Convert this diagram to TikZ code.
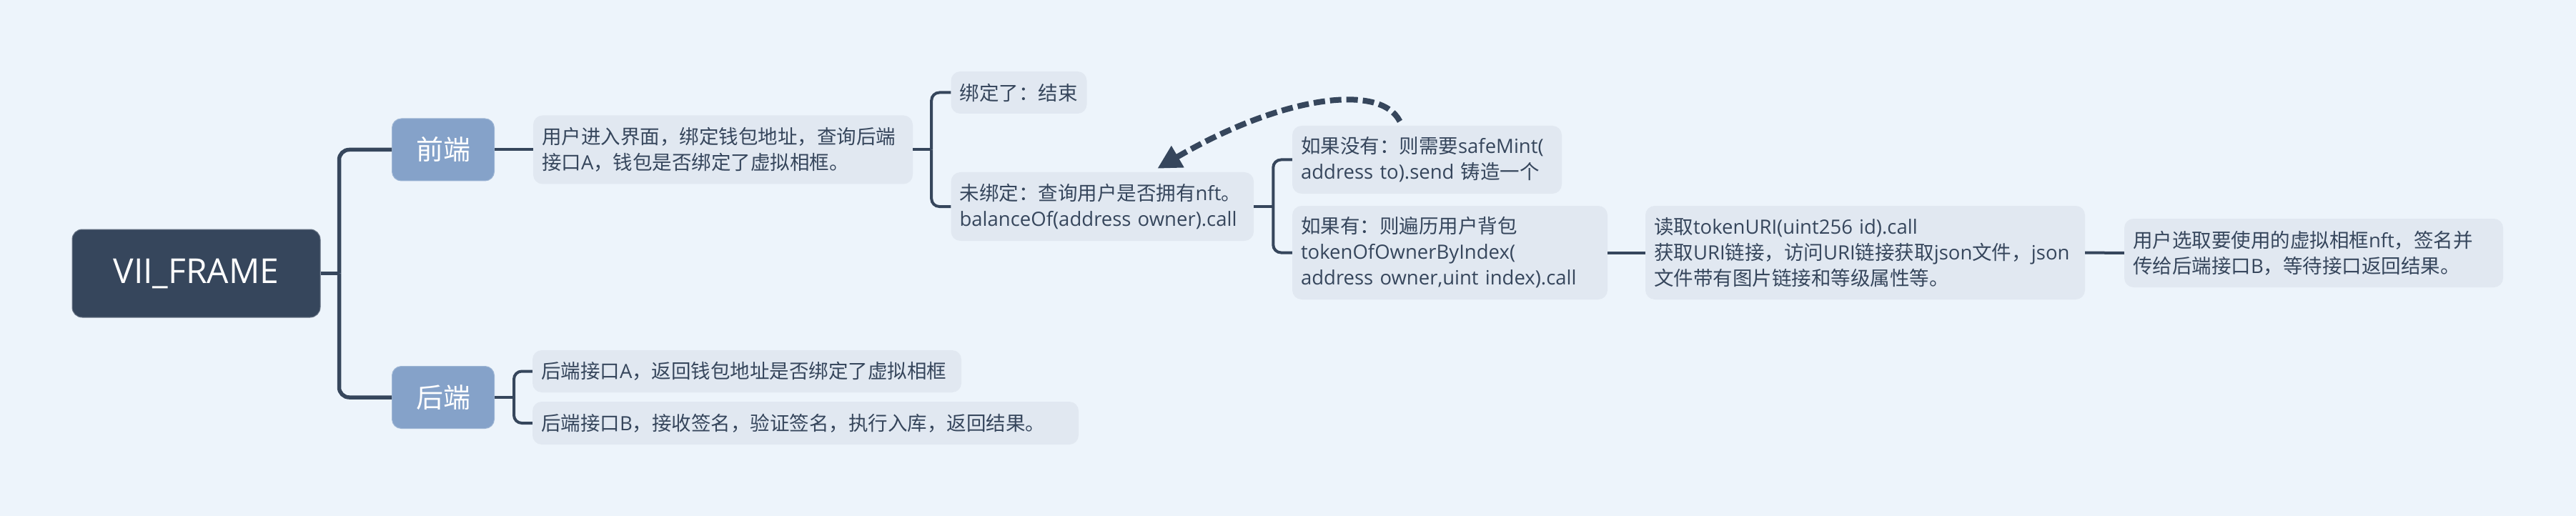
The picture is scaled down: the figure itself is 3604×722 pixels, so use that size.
\documentclass[tikz,border=0pt]{standalone}
\usepackage{fontspec}
\usetikzlibrary{calc,arrows.meta}
\setmainfont{Open Sans}
\newfontfamily\cjkfont{Noto Sans CJK SC}
\newfontfamily\latinfont{Open Sans}
\XeTeXinterchartokenstate=1
\chardef\mycjkclass=200
\def\setcjkrange#1#2{\count255=#1 \loop\XeTeXcharclass\count255=\mycjkclass\relax\ifnum\count255<#2 \advance\count255 by 1 \repeat}
\setcjkrange{"4E00}{"9FFF}
\setcjkrange{"3000}{"303F}
\setcjkrange{"FF00}{"FFEF}
\XeTeXinterchartoks 0 \mycjkclass = {\cjkfont}
\XeTeXinterchartoks 4095 \mycjkclass = {\cjkfont}
\XeTeXinterchartoks \mycjkclass 0 = {\latinfont}
\XeTeXinterchartoks 4095 0 = {\latinfont}
\definecolor{bg}{HTML}{EDF4FB}
\definecolor{boxfill}{HTML}{E1E8F1}
\definecolor{ink}{HTML}{36465C}
\definecolor{mainblue}{HTML}{85A2C9}
\tikzset{
  topic/.style={rounded corners=13pt, fill=boxfill, text=ink, align=left,
    font=\fontsize{27.5}{36}\selectfont, inner xsep=12pt, inner ysep=0pt},
  mainbox/.style={rounded corners=13pt, fill=mainblue, draw=mainblue!80!white, line width=1pt,
    text=white, font=\fontsize{38}{46}\selectfont, minimum width=143pt, minimum height=87pt, inner sep=0pt},
  rootbox/.style={rounded corners=14pt, fill=ink, draw=ink!75!white, line width=1pt, text=white,
    font=\fontsize{48}{58}\selectfont, minimum width=347pt, minimum height=123pt, inner sep=0pt},
  rootconn/.style={draw=ink, line width=5.5pt, rounded corners=14pt},
  conn/.style={draw=ink, line width=4pt, rounded corners=11pt},
  backarrow/.style={draw=ink, line width=8pt, dash pattern=on 16pt off 7pt,
    -{Triangle[length=33pt,width=33pt]}}
}
\begin{document}
\begin{tikzpicture}[x=1pt,y=-1pt]
\useasboundingbox (0,0) rectangle (3604,722);
\fill[bg] (0,0) rectangle (3604,722);

\node[rootbox] (root) at (274.5,382.5) {VII\_FRAME};
\node[mainbox] (front) at (620,209.5) {前端};
\node[mainbox] (back) at (620,556) {后端};

\node[topic, text width=507pt, minimum height=96pt] (t1) at (1011.5,209.5)
  {用户进入界面，绑定钱包地址，查询后端\\接口A，钱包是否绑定了虚拟相框。};
\node[topic, text width=576pt, minimum height=59pt] (bA) at (1045,519.5)
  {后端接口A，返回钱包地址是否绑定了虚拟相框};
\node[topic, text width=740pt, minimum height=60pt] (bB) at (1127,592)
  {后端接口B，接收签名，验证签名，执行入库，返回结果。};
\node[topic, text width=166pt, minimum height=59pt] (bind) at (1425.5,129.5)
  {绑定了：结束};
\node[topic, text width=399.5pt, minimum height=96pt] (unbind) at (1542.3,289)
  {未绑定：查询用户是否拥有nft。\\balanceOf(address owner).call};
\node[topic, text width=353pt, minimum height=95pt] (nohave) at (1996.5,223.5)
  {如果没有：则需要safeMint(\\address to).send 铸造一个};
\node[topic, text width=417pt, minimum height=131pt] (have) at (2028.5,353.5)
  {如果有：则遍历用户背包\\tokenOfOwnerByIndex(\\address owner,uint index).call};
\node[topic, text width=591pt, minimum height=131pt] (read) at (2609.5,353.5)
  {读取tokenURI(uint256 id).call\\获取URI链接，访问URI链接获取json文件，json\\文件带有图片链接和等级属性等。};
\node[topic, text width=506pt, minimum height=96pt] (select) at (3237,354)
  {用户选取要使用的虚拟相框nft，签名并\\传给后端接口B，等待接口返回结果。};

% root trunk
\coordinate (j0) at ($(root.east)+(26,0)$);
\draw[rootconn] (root.east) -- (j0);
\draw[rootconn] (j0) |- (front.west);
\draw[rootconn] (j0) |- (back.west);

% front branch
\draw[conn] (front.east) -- (t1.west);
\coordinate (j1) at ($(t1.east)+(26,0)$);
\draw[conn] (t1.east) -- (j1);
\draw[conn] (j1) |- (bind.west);
\draw[conn] (j1) |- (unbind.west);
\coordinate (j2) at ($(unbind.east)+(27,0)$);
\draw[conn] (unbind.east) -- (j2);
\draw[conn] (j2) |- (nohave.west);
\draw[conn] (j2) |- (have.west);
\draw[conn] (have.east) -- (read.west);
\draw[conn] (read.east) -- (select.west);

% back branch
\coordinate (j3) at ($(back.east)+(27,0)$);
\draw[conn] (back.east) -- (j3);
\draw[conn] (j3) |- (bA.west);
\draw[conn] (j3) |- (bB.west);

% dashed back arrow
\coordinate (arrS) at ($(nohave.north)+(-38,-6)$);
\coordinate (arrE) at ($(unbind.north)+(77,-5)$);
\draw[backarrow] (arrS) .. controls +(-28,-55) and +(171,-100) .. (arrE);
\end{tikzpicture}
\end{document}
